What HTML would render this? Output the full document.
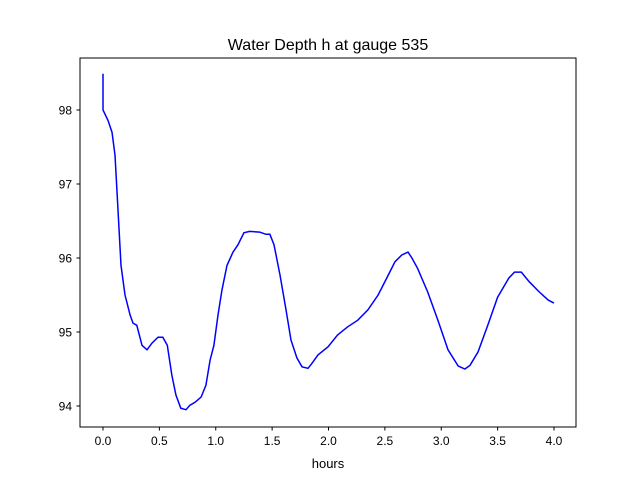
<!DOCTYPE html>
<html><head><meta charset="utf-8"><style>
body{margin:0;background:#fff;}
svg{display:block;font-family:"Liberation Sans","DejaVu Sans",sans-serif;}
</style></head><body>
<svg id="chart" width="640" height="480" viewBox="0 0 640 480">
<rect width="640" height="480" fill="#fff"/>
<text x="328" y="50" font-size="16" text-anchor="middle">Water Depth h at gauge 535</text>
<g id="ticks"></g>
<path id="line" fill="none" stroke="#0000ff" stroke-width="1.5"/>
<rect x="80" y="58" width="496" height="369" fill="none" stroke="#000" stroke-width="1"/>
<text x="328" y="468" font-size="13" text-anchor="middle">hours</text>
</svg>
<script>
const hours=[0,0,0.044,0.08,0.106,0.133,0.16,0.195,0.24,0.266,0.30,0.346,0.39,0.435,0.488,0.53,0.57,0.61,0.647,0.69,0.736,0.77,0.816,0.87,0.913,0.95,0.984,1.02,1.055,1.1,1.153,1.197,1.25,1.3,1.39,1.445,1.48,1.517,1.57,1.623,1.667,1.72,1.765,1.818,1.85,1.907,1.996,2.08,2.17,2.26,2.35,2.44,2.53,2.59,2.65,2.705,2.74,2.79,2.88,2.97,3.06,3.15,3.21,3.255,3.326,3.415,3.5,3.6,3.65,3.71,3.78,3.87,3.95,4.0];
const depth=[98.49,98.0,97.86,97.7,97.39,96.65,95.9,95.5,95.23,95.12,95.09,94.82,94.76,94.85,94.93,94.93,94.82,94.42,94.15,93.97,93.95,94.01,94.05,94.12,94.28,94.62,94.82,95.23,95.57,95.9,96.08,96.18,96.34,96.36,96.35,96.32,96.32,96.18,95.77,95.3,94.89,94.65,94.53,94.51,94.57,94.69,94.8,94.96,95.07,95.16,95.3,95.5,95.77,95.95,96.04,96.08,96.0,95.86,95.54,95.16,94.76,94.54,94.5,94.55,94.73,95.1,95.47,95.73,95.81,95.81,95.68,95.54,95.43,95.39];
const xTicks=[0,0.5,1,1.5,2,2.5,3,3.5,4];
const xTickLabels=["0.0","0.5","1.0","1.5","2.0","2.5","3.0","3.5","4.0"];
const yTicks=[94,95,96,97,98];
const yTickLabels=["94","95","96","97","98"];
const X=v=>103+v*112.75, Y=v=>110+(98-v)*74;
const NS="http://www.w3.org/2000/svg", g=document.getElementById('ticks');
function mk(t,a){const e=document.createElementNS(NS,t);for(const k in a)e.setAttribute(k,a[k]);g.appendChild(e);return e;}
xTicks.forEach((v,i)=>{
 const l=mk('line',{x1:X(v),x2:X(v),y1:427,y2:430.5,stroke:'#000'});
 
 
 const t=mk('text',{x:X(v),y:445,'font-size':12,'text-anchor':'middle'});t.textContent=xTickLabels[i];
 
 
});
yTicks.forEach((v,i)=>{
 const l=mk('line',{x1:76.5,x2:80,y1:Y(v),y2:Y(v),stroke:'#000'});
 
 
 const t=mk('text',{x:72,y:Y(v)+4.5,'font-size':12,'text-anchor':'end'});t.textContent=yTickLabels[i];
 
 
});
document.getElementById('line').setAttribute('d',hours.map((h,i)=>(i?'L':'M')+X(h).toFixed(1)+','+Y(depth[i]).toFixed(1)).join(''));
</script>
</body></html>
